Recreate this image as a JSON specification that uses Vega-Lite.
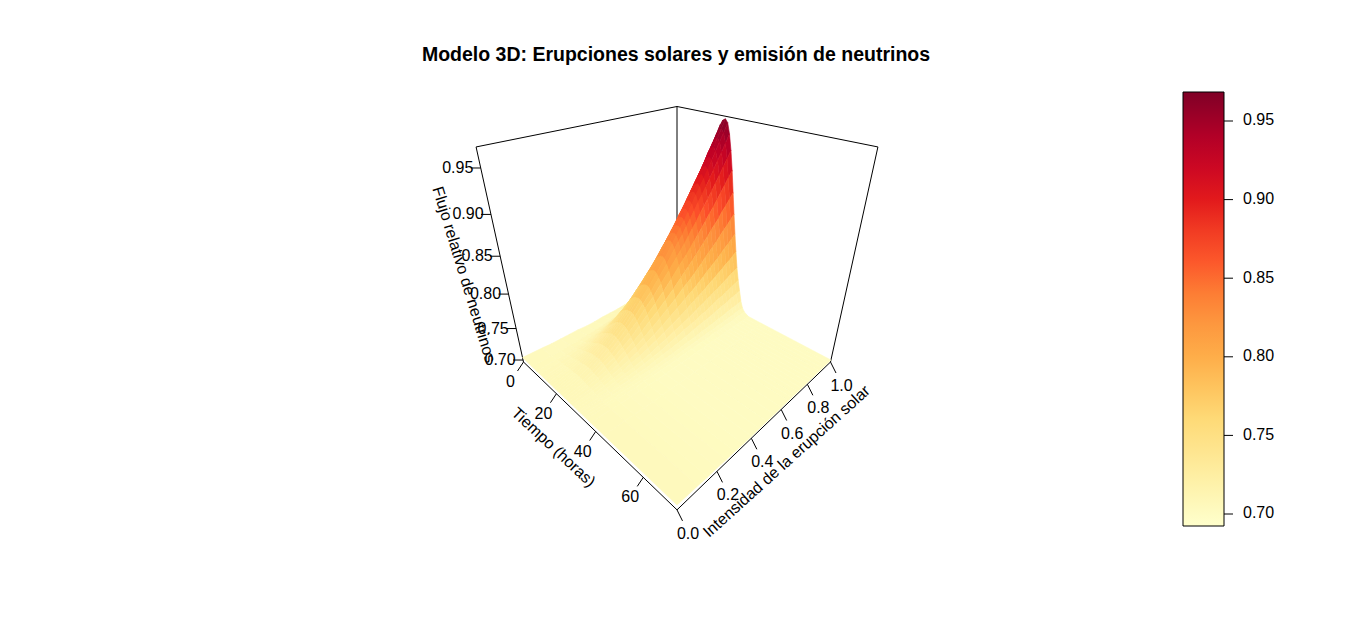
{
"$schema":"https://vega.github.io/schema/vega-lite/v6.json",
"width":1366,"height":642,"padding":0,"autosize":"none","background":"white",
"title":{"text":"Modelo 3D: Erupciones solares y emisión de neutrinos","anchor":"middle","frame":"group","font":"Liberation Sans","fontSize":19.5,"fontWeight":"bold","color":"black","dx":-7,"dy":69},
"config":{"view":{"stroke":null}},
"datasets":{
"caja":[
{"t":0,"i":1,"z":0.6967,"t2":0,"i2":1,"z2":0.971},
{"t":0,"i":0,"z":0.6967,"t2":0,"i2":0,"z2":0.971},
{"t":72,"i":1,"z":0.6967,"t2":72,"i2":1,"z2":0.971},
{"t":0,"i":0,"z":0.971,"t2":0,"i2":1,"z2":0.971},
{"t":0,"i":1,"z":0.971,"t2":72,"i2":1,"z2":0.971},
{"t":0,"i":0,"z":0.6967,"t2":72,"i2":0,"z2":0.6967},
{"t":72,"i":0,"z":0.6967,"t2":72,"i2":1,"z2":0.6967}
],
"ticks":[
{"eje":"t","t":0,"i":0,"z":0.6967,"etiqueta":"0"},
{"eje":"t","t":20,"i":0,"z":0.6967,"etiqueta":"20"},
{"eje":"t","t":40,"i":0,"z":0.6967,"etiqueta":"40"},
{"eje":"t","t":60,"i":0,"z":0.6967,"etiqueta":"60"},
{"eje":"i","t":72,"i":0,"z":0.6967,"etiqueta":"0.0"},
{"eje":"i","t":72,"i":0.2,"z":0.6967,"etiqueta":"0.2"},
{"eje":"i","t":72,"i":0.4,"z":0.6967,"etiqueta":"0.4"},
{"eje":"i","t":72,"i":0.6,"z":0.6967,"etiqueta":"0.6"},
{"eje":"i","t":72,"i":0.8,"z":0.6967,"etiqueta":"0.8"},
{"eje":"i","t":72,"i":1,"z":0.6967,"etiqueta":"1.0"},
{"eje":"z","t":0,"i":0,"z":0.70,"etiqueta":"0.70"},
{"eje":"z","t":0,"i":0,"z":0.75,"etiqueta":"0.75"},
{"eje":"z","t":0,"i":0,"z":0.80,"etiqueta":"0.80"},
{"eje":"z","t":0,"i":0,"z":0.85,"etiqueta":"0.85"},
{"eje":"z","t":0,"i":0,"z":0.90,"etiqueta":"0.90"},
{"eje":"z","t":0,"i":0,"z":0.95,"etiqueta":"0.95"}
],
"barra":[{"valor":0.70},{"valor":0.75},{"valor":0.80},{"valor":0.85},{"valor":0.90},{"valor":0.95}],
"titulos":[
{"eje":"t","t":26,"i":0,"z":0.6967,"etiqueta":"Tiempo (horas)"},
{"eje":"i","t":72,"i":0.7,"z":0.6967,"etiqueta":"Intensidad de la erupción solar"},
{"eje":"z","t":0,"i":0,"z":0.834,"etiqueta":"Flujo relativo de neutrinos"}
],
"superficie":[
{"t":0,"i":1,"z":0.706},{"t":0,"i":0.975,"z":0.706},{"t":0,"i":0.95,"z":0.706},{"t":0,"i":0.925,"z":0.705},{"t":0,"i":0.9,"z":0.705},{"t":0,"i":0.875,"z":0.705},{"t":0,"i":0.85,"z":0.705},{"t":0,"i":0.825,"z":0.705},{"t":0,"i":0.8,"z":0.704},{"t":0,"i":0.775,"z":0.704},{"t":0,"i":0.75,"z":0.704},{"t":0,"i":0.725,"z":0.704},{"t":0,"i":0.7,"z":0.703},{"t":0,"i":0.675,"z":0.703},{"t":0,"i":0.65,"z":0.703},{"t":0,"i":0.6,"z":0.703},{"t":0,"i":0.55,"z":0.702},{"t":0,"i":0.5,"z":0.702},{"t":0,"i":0.45,"z":0.702},{"t":0,"i":0.4,"z":0.701},{"t":0,"i":0.35,"z":0.701},{"t":0,"i":0.3,"z":0.702},{"t":0,"i":0.25,"z":0.702},{"t":0,"i":0.2,"z":0.702},{"t":0,"i":0.15,"z":0.702},{"t":0,"i":0.1,"z":0.703},{"t":0,"i":0,"z":0.704},
{"t":6,"i":1,"z":0.736},{"t":6,"i":0.975,"z":0.735},{"t":6,"i":0.95,"z":0.733},{"t":6,"i":0.925,"z":0.732},{"t":6,"i":0.9,"z":0.731},{"t":6,"i":0.875,"z":0.729},{"t":6,"i":0.85,"z":0.728},{"t":6,"i":0.825,"z":0.727},{"t":6,"i":0.8,"z":0.725},{"t":6,"i":0.775,"z":0.724},{"t":6,"i":0.75,"z":0.723},{"t":6,"i":0.725,"z":0.722},{"t":6,"i":0.7,"z":0.720},{"t":6,"i":0.675,"z":0.719},{"t":6,"i":0.65,"z":0.718},{"t":6,"i":0.6,"z":0.716},{"t":6,"i":0.55,"z":0.714},{"t":6,"i":0.5,"z":0.712},{"t":6,"i":0.45,"z":0.710},{"t":6,"i":0.4,"z":0.708},{"t":6,"i":0.35,"z":0.707},{"t":6,"i":0.3,"z":0.706},{"t":6,"i":0.25,"z":0.705},{"t":6,"i":0.2,"z":0.705},{"t":6,"i":0.15,"z":0.704},{"t":6,"i":0.1,"z":0.704},{"t":6,"i":0,"z":0.704},
{"t":9,"i":1,"z":0.772},{"t":9,"i":0.975,"z":0.769},{"t":9,"i":0.95,"z":0.766},{"t":9,"i":0.925,"z":0.763},{"t":9,"i":0.9,"z":0.760},{"t":9,"i":0.875,"z":0.758},{"t":9,"i":0.85,"z":0.755},{"t":9,"i":0.825,"z":0.753},{"t":9,"i":0.8,"z":0.750},{"t":9,"i":0.775,"z":0.748},{"t":9,"i":0.75,"z":0.745},{"t":9,"i":0.725,"z":0.743},{"t":9,"i":0.7,"z":0.740},{"t":9,"i":0.675,"z":0.738},{"t":9,"i":0.65,"z":0.736},{"t":9,"i":0.6,"z":0.732},{"t":9,"i":0.55,"z":0.728},{"t":9,"i":0.5,"z":0.724},{"t":9,"i":0.45,"z":0.720},{"t":9,"i":0.4,"z":0.717},{"t":9,"i":0.35,"z":0.713},{"t":9,"i":0.3,"z":0.711},{"t":9,"i":0.25,"z":0.709},{"t":9,"i":0.2,"z":0.707},{"t":9,"i":0.15,"z":0.705},{"t":9,"i":0.1,"z":0.705},{"t":9,"i":0,"z":0.704},
{"t":11,"i":1,"z":0.804},{"t":11,"i":0.975,"z":0.800},{"t":11,"i":0.95,"z":0.796},{"t":11,"i":0.925,"z":0.792},{"t":11,"i":0.9,"z":0.788},{"t":11,"i":0.875,"z":0.784},{"t":11,"i":0.85,"z":0.780},{"t":11,"i":0.825,"z":0.777},{"t":11,"i":0.8,"z":0.773},{"t":11,"i":0.775,"z":0.769},{"t":11,"i":0.75,"z":0.766},{"t":11,"i":0.725,"z":0.762},{"t":11,"i":0.7,"z":0.759},{"t":11,"i":0.675,"z":0.756},{"t":11,"i":0.65,"z":0.752},{"t":11,"i":0.6,"z":0.746},{"t":11,"i":0.55,"z":0.740},{"t":11,"i":0.5,"z":0.734},{"t":11,"i":0.45,"z":0.729},{"t":11,"i":0.4,"z":0.724},{"t":11,"i":0.35,"z":0.719},{"t":11,"i":0.3,"z":0.716},{"t":11,"i":0.25,"z":0.712},{"t":11,"i":0.2,"z":0.710},{"t":11,"i":0.15,"z":0.707},{"t":11,"i":0.1,"z":0.706},{"t":11,"i":0,"z":0.704},
{"t":13,"i":1,"z":0.842},{"t":13,"i":0.975,"z":0.837},{"t":13,"i":0.95,"z":0.831},{"t":13,"i":0.925,"z":0.826},{"t":13,"i":0.9,"z":0.820},{"t":13,"i":0.875,"z":0.815},{"t":13,"i":0.85,"z":0.810},{"t":13,"i":0.825,"z":0.805},{"t":13,"i":0.8,"z":0.800},{"t":13,"i":0.775,"z":0.795},{"t":13,"i":0.75,"z":0.790},{"t":13,"i":0.725,"z":0.785},{"t":13,"i":0.7,"z":0.780},{"t":13,"i":0.675,"z":0.776},{"t":13,"i":0.65,"z":0.771},{"t":13,"i":0.6,"z":0.763},{"t":13,"i":0.55,"z":0.755},{"t":13,"i":0.5,"z":0.747},{"t":13,"i":0.45,"z":0.740},{"t":13,"i":0.4,"z":0.733},{"t":13,"i":0.35,"z":0.727},{"t":13,"i":0.3,"z":0.722},{"t":13,"i":0.25,"z":0.717},{"t":13,"i":0.2,"z":0.713},{"t":13,"i":0.15,"z":0.709},{"t":13,"i":0.1,"z":0.707},{"t":13,"i":0,"z":0.704},
{"t":14,"i":1,"z":0.863},{"t":14,"i":0.975,"z":0.856},{"t":14,"i":0.95,"z":0.850},{"t":14,"i":0.925,"z":0.844},{"t":14,"i":0.9,"z":0.837},{"t":14,"i":0.875,"z":0.831},{"t":14,"i":0.85,"z":0.825},{"t":14,"i":0.825,"z":0.820},{"t":14,"i":0.8,"z":0.814},{"t":14,"i":0.775,"z":0.808},{"t":14,"i":0.75,"z":0.803},{"t":14,"i":0.725,"z":0.797},{"t":14,"i":0.7,"z":0.792},{"t":14,"i":0.675,"z":0.787},{"t":14,"i":0.65,"z":0.782},{"t":14,"i":0.6,"z":0.772},{"t":14,"i":0.55,"z":0.763},{"t":14,"i":0.5,"z":0.754},{"t":14,"i":0.45,"z":0.745},{"t":14,"i":0.4,"z":0.738},{"t":14,"i":0.35,"z":0.730},{"t":14,"i":0.3,"z":0.725},{"t":14,"i":0.25,"z":0.719},{"t":14,"i":0.2,"z":0.714},{"t":14,"i":0.15,"z":0.710},{"t":14,"i":0.1,"z":0.707},{"t":14,"i":0,"z":0.704},
{"t":15,"i":1,"z":0.883},{"t":15,"i":0.975,"z":0.876},{"t":15,"i":0.95,"z":0.868},{"t":15,"i":0.925,"z":0.861},{"t":15,"i":0.9,"z":0.854},{"t":15,"i":0.875,"z":0.848},{"t":15,"i":0.85,"z":0.841},{"t":15,"i":0.825,"z":0.834},{"t":15,"i":0.8,"z":0.828},{"t":15,"i":0.775,"z":0.822},{"t":15,"i":0.75,"z":0.815},{"t":15,"i":0.725,"z":0.809},{"t":15,"i":0.7,"z":0.803},{"t":15,"i":0.675,"z":0.797},{"t":15,"i":0.65,"z":0.792},{"t":15,"i":0.6,"z":0.781},{"t":15,"i":0.55,"z":0.770},{"t":15,"i":0.5,"z":0.760},{"t":15,"i":0.45,"z":0.751},{"t":15,"i":0.4,"z":0.742},{"t":15,"i":0.35,"z":0.734},{"t":15,"i":0.3,"z":0.728},{"t":15,"i":0.25,"z":0.721},{"t":15,"i":0.2,"z":0.716},{"t":15,"i":0.15,"z":0.711},{"t":15,"i":0.1,"z":0.708},{"t":15,"i":0,"z":0.704},
{"t":16,"i":1,"z":0.902},{"t":16,"i":0.975,"z":0.894},{"t":16,"i":0.95,"z":0.886},{"t":16,"i":0.925,"z":0.879},{"t":16,"i":0.9,"z":0.871},{"t":16,"i":0.875,"z":0.863},{"t":16,"i":0.85,"z":0.856},{"t":16,"i":0.825,"z":0.849},{"t":16,"i":0.8,"z":0.842},{"t":16,"i":0.775,"z":0.835},{"t":16,"i":0.75,"z":0.828},{"t":16,"i":0.725,"z":0.821},{"t":16,"i":0.7,"z":0.814},{"t":16,"i":0.675,"z":0.808},{"t":16,"i":0.65,"z":0.802},{"t":16,"i":0.6,"z":0.789},{"t":16,"i":0.55,"z":0.778},{"t":16,"i":0.5,"z":0.767},{"t":16,"i":0.45,"z":0.756},{"t":16,"i":0.4,"z":0.747},{"t":16,"i":0.35,"z":0.738},{"t":16,"i":0.3,"z":0.730},{"t":16,"i":0.25,"z":0.723},{"t":16,"i":0.2,"z":0.717},{"t":16,"i":0.15,"z":0.712},{"t":16,"i":0.1,"z":0.708},{"t":16,"i":0,"z":0.704},
{"t":17,"i":1,"z":0.921},{"t":17,"i":0.975,"z":0.912},{"t":17,"i":0.95,"z":0.903},{"t":17,"i":0.925,"z":0.895},{"t":17,"i":0.9,"z":0.886},{"t":17,"i":0.875,"z":0.878},{"t":17,"i":0.85,"z":0.870},{"t":17,"i":0.825,"z":0.862},{"t":17,"i":0.8,"z":0.854},{"t":17,"i":0.775,"z":0.847},{"t":17,"i":0.75,"z":0.839},{"t":17,"i":0.725,"z":0.832},{"t":17,"i":0.7,"z":0.825},{"t":17,"i":0.675,"z":0.818},{"t":17,"i":0.65,"z":0.811},{"t":17,"i":0.6,"z":0.797},{"t":17,"i":0.55,"z":0.785},{"t":17,"i":0.5,"z":0.773},{"t":17,"i":0.45,"z":0.761},{"t":17,"i":0.4,"z":0.751},{"t":17,"i":0.35,"z":0.741},{"t":17,"i":0.3,"z":0.733},{"t":17,"i":0.25,"z":0.725},{"t":17,"i":0.2,"z":0.719},{"t":17,"i":0.15,"z":0.713},{"t":17,"i":0.1,"z":0.709},{"t":17,"i":0,"z":0.704},
{"t":18,"i":1,"z":0.936},{"t":18,"i":0.975,"z":0.927},{"t":18,"i":0.95,"z":0.918},{"t":18,"i":0.925,"z":0.909},{"t":18,"i":0.9,"z":0.900},{"t":18,"i":0.875,"z":0.891},{"t":18,"i":0.85,"z":0.882},{"t":18,"i":0.825,"z":0.874},{"t":18,"i":0.8,"z":0.865},{"t":18,"i":0.775,"z":0.857},{"t":18,"i":0.75,"z":0.849},{"t":18,"i":0.725,"z":0.841},{"t":18,"i":0.7,"z":0.833},{"t":18,"i":0.675,"z":0.826},{"t":18,"i":0.65,"z":0.819},{"t":18,"i":0.6,"z":0.804},{"t":18,"i":0.55,"z":0.791},{"t":18,"i":0.5,"z":0.778},{"t":18,"i":0.45,"z":0.766},{"t":18,"i":0.4,"z":0.755},{"t":18,"i":0.35,"z":0.744},{"t":18,"i":0.3,"z":0.735},{"t":18,"i":0.25,"z":0.727},{"t":18,"i":0.2,"z":0.720},{"t":18,"i":0.15,"z":0.713},{"t":18,"i":0.1,"z":0.709},{"t":18,"i":0,"z":0.704},
{"t":19,"i":1,"z":0.950},{"t":19,"i":0.975,"z":0.940},{"t":19,"i":0.95,"z":0.930},{"t":19,"i":0.925,"z":0.921},{"t":19,"i":0.9,"z":0.911},{"t":19,"i":0.875,"z":0.902},{"t":19,"i":0.85,"z":0.893},{"t":19,"i":0.825,"z":0.884},{"t":19,"i":0.8,"z":0.875},{"t":19,"i":0.775,"z":0.866},{"t":19,"i":0.75,"z":0.858},{"t":19,"i":0.725,"z":0.849},{"t":19,"i":0.7,"z":0.841},{"t":19,"i":0.675,"z":0.833},{"t":19,"i":0.65,"z":0.825},{"t":19,"i":0.6,"z":0.810},{"t":19,"i":0.55,"z":0.796},{"t":19,"i":0.5,"z":0.782},{"t":19,"i":0.45,"z":0.770},{"t":19,"i":0.4,"z":0.758},{"t":19,"i":0.35,"z":0.747},{"t":19,"i":0.3,"z":0.737},{"t":19,"i":0.25,"z":0.728},{"t":19,"i":0.2,"z":0.721},{"t":19,"i":0.15,"z":0.714},{"t":19,"i":0.1,"z":0.709},{"t":19,"i":0,"z":0.704},
{"t":20,"i":1,"z":0.960},{"t":20,"i":0.975,"z":0.949},{"t":20,"i":0.95,"z":0.939},{"t":20,"i":0.925,"z":0.930},{"t":20,"i":0.9,"z":0.919},{"t":20,"i":0.875,"z":0.909},{"t":20,"i":0.85,"z":0.900},{"t":20,"i":0.825,"z":0.891},{"t":20,"i":0.8,"z":0.882},{"t":20,"i":0.775,"z":0.872},{"t":20,"i":0.75,"z":0.864},{"t":20,"i":0.725,"z":0.855},{"t":20,"i":0.7,"z":0.846},{"t":20,"i":0.675,"z":0.839},{"t":20,"i":0.65,"z":0.831},{"t":20,"i":0.6,"z":0.814},{"t":20,"i":0.55,"z":0.800},{"t":20,"i":0.5,"z":0.785},{"t":20,"i":0.45,"z":0.773},{"t":20,"i":0.4,"z":0.760},{"t":20,"i":0.35,"z":0.748},{"t":20,"i":0.3,"z":0.739},{"t":20,"i":0.25,"z":0.729},{"t":20,"i":0.2,"z":0.721},{"t":20,"i":0.15,"z":0.715},{"t":20,"i":0.1,"z":0.710},{"t":20,"i":0,"z":0.704},
{"t":21,"i":1,"z":0.966},{"t":21,"i":0.975,"z":0.955},{"t":21,"i":0.95,"z":0.945},{"t":21,"i":0.925,"z":0.935},{"t":21,"i":0.9,"z":0.924},{"t":21,"i":0.875,"z":0.914},{"t":21,"i":0.85,"z":0.905},{"t":21,"i":0.825,"z":0.895},{"t":21,"i":0.8,"z":0.886},{"t":21,"i":0.775,"z":0.877},{"t":21,"i":0.75,"z":0.868},{"t":21,"i":0.725,"z":0.859},{"t":21,"i":0.7,"z":0.850},{"t":21,"i":0.675,"z":0.842},{"t":21,"i":0.65,"z":0.834},{"t":21,"i":0.6,"z":0.817},{"t":21,"i":0.55,"z":0.802},{"t":21,"i":0.5,"z":0.787},{"t":21,"i":0.45,"z":0.774},{"t":21,"i":0.4,"z":0.761},{"t":21,"i":0.35,"z":0.750},{"t":21,"i":0.3,"z":0.740},{"t":21,"i":0.25,"z":0.730},{"t":21,"i":0.2,"z":0.722},{"t":21,"i":0.15,"z":0.715},{"t":21,"i":0.1,"z":0.710},{"t":21,"i":0,"z":0.704},
{"t":22,"i":1,"z":0.968},{"t":22,"i":0.975,"z":0.957},{"t":22,"i":0.95,"z":0.947},{"t":22,"i":0.925,"z":0.937},{"t":22,"i":0.9,"z":0.926},{"t":22,"i":0.875,"z":0.916},{"t":22,"i":0.85,"z":0.907},{"t":22,"i":0.825,"z":0.897},{"t":22,"i":0.8,"z":0.888},{"t":22,"i":0.775,"z":0.878},{"t":22,"i":0.75,"z":0.869},{"t":22,"i":0.725,"z":0.860},{"t":22,"i":0.7,"z":0.851},{"t":22,"i":0.675,"z":0.843},{"t":22,"i":0.65,"z":0.835},{"t":22,"i":0.6,"z":0.818},{"t":22,"i":0.55,"z":0.803},{"t":22,"i":0.5,"z":0.788},{"t":22,"i":0.45,"z":0.775},{"t":22,"i":0.4,"z":0.762},{"t":22,"i":0.35,"z":0.750},{"t":22,"i":0.3,"z":0.740},{"t":22,"i":0.25,"z":0.730},{"t":22,"i":0.2,"z":0.722},{"t":22,"i":0.15,"z":0.715},{"t":22,"i":0.1,"z":0.710},{"t":22,"i":0,"z":0.704},
{"t":23,"i":1,"z":0.964},{"t":23,"i":0.975,"z":0.953},{"t":23,"i":0.95,"z":0.943},{"t":23,"i":0.925,"z":0.933},{"t":23,"i":0.9,"z":0.923},{"t":23,"i":0.875,"z":0.913},{"t":23,"i":0.85,"z":0.903},{"t":23,"i":0.825,"z":0.894},{"t":23,"i":0.8,"z":0.885},{"t":23,"i":0.775,"z":0.875},{"t":23,"i":0.75,"z":0.866},{"t":23,"i":0.725,"z":0.857},{"t":23,"i":0.7,"z":0.849},{"t":23,"i":0.675,"z":0.841},{"t":23,"i":0.65,"z":0.832},{"t":23,"i":0.6,"z":0.816},{"t":23,"i":0.55,"z":0.801},{"t":23,"i":0.5,"z":0.787},{"t":23,"i":0.45,"z":0.774},{"t":23,"i":0.4,"z":0.761},{"t":23,"i":0.35,"z":0.749},{"t":23,"i":0.3,"z":0.739},{"t":23,"i":0.25,"z":0.730},{"t":23,"i":0.2,"z":0.722},{"t":23,"i":0.15,"z":0.715},{"t":23,"i":0.1,"z":0.710},{"t":23,"i":0,"z":0.704},
{"t":24,"i":1,"z":0.951},{"t":24,"i":0.975,"z":0.941},{"t":24,"i":0.95,"z":0.931},{"t":24,"i":0.925,"z":0.922},{"t":24,"i":0.9,"z":0.912},{"t":24,"i":0.875,"z":0.902},{"t":24,"i":0.85,"z":0.893},{"t":24,"i":0.825,"z":0.884},{"t":24,"i":0.8,"z":0.876},{"t":24,"i":0.775,"z":0.867},{"t":24,"i":0.75,"z":0.858},{"t":24,"i":0.725,"z":0.850},{"t":24,"i":0.7,"z":0.841},{"t":24,"i":0.675,"z":0.834},{"t":24,"i":0.65,"z":0.826},{"t":24,"i":0.6,"z":0.810},{"t":24,"i":0.55,"z":0.796},{"t":24,"i":0.5,"z":0.782},{"t":24,"i":0.45,"z":0.770},{"t":24,"i":0.4,"z":0.758},{"t":24,"i":0.35,"z":0.747},{"t":24,"i":0.3,"z":0.737},{"t":24,"i":0.25,"z":0.728},{"t":24,"i":0.2,"z":0.721},{"t":24,"i":0.15,"z":0.714},{"t":24,"i":0.1,"z":0.709},{"t":24,"i":0,"z":0.704},
{"t":25,"i":1,"z":0.931},{"t":25,"i":0.975,"z":0.922},{"t":25,"i":0.95,"z":0.913},{"t":25,"i":0.925,"z":0.904},{"t":25,"i":0.9,"z":0.895},{"t":25,"i":0.875,"z":0.886},{"t":25,"i":0.85,"z":0.878},{"t":25,"i":0.825,"z":0.870},{"t":25,"i":0.8,"z":0.862},{"t":25,"i":0.775,"z":0.853},{"t":25,"i":0.75,"z":0.846},{"t":25,"i":0.725,"z":0.838},{"t":25,"i":0.7,"z":0.830},{"t":25,"i":0.675,"z":0.823},{"t":25,"i":0.65,"z":0.816},{"t":25,"i":0.6,"z":0.802},{"t":25,"i":0.55,"z":0.789},{"t":25,"i":0.5,"z":0.776},{"t":25,"i":0.45,"z":0.765},{"t":25,"i":0.4,"z":0.753},{"t":25,"i":0.35,"z":0.743},{"t":25,"i":0.3,"z":0.735},{"t":25,"i":0.25,"z":0.726},{"t":25,"i":0.2,"z":0.720},{"t":25,"i":0.15,"z":0.713},{"t":25,"i":0.1,"z":0.709},{"t":25,"i":0,"z":0.704},
{"t":26,"i":1,"z":0.906},{"t":26,"i":0.975,"z":0.898},{"t":26,"i":0.95,"z":0.890},{"t":26,"i":0.925,"z":0.882},{"t":26,"i":0.9,"z":0.874},{"t":26,"i":0.875,"z":0.866},{"t":26,"i":0.85,"z":0.859},{"t":26,"i":0.825,"z":0.851},{"t":26,"i":0.8,"z":0.844},{"t":26,"i":0.775,"z":0.837},{"t":26,"i":0.75,"z":0.830},{"t":26,"i":0.725,"z":0.823},{"t":26,"i":0.7,"z":0.816},{"t":26,"i":0.675,"z":0.810},{"t":26,"i":0.65,"z":0.804},{"t":26,"i":0.6,"z":0.791},{"t":26,"i":0.55,"z":0.779},{"t":26,"i":0.5,"z":0.768},{"t":26,"i":0.45,"z":0.758},{"t":26,"i":0.4,"z":0.748},{"t":26,"i":0.35,"z":0.738},{"t":26,"i":0.3,"z":0.731},{"t":26,"i":0.25,"z":0.723},{"t":26,"i":0.2,"z":0.718},{"t":26,"i":0.15,"z":0.712},{"t":26,"i":0.1,"z":0.708},{"t":26,"i":0,"z":0.704},
{"t":27,"i":1,"z":0.877},{"t":27,"i":0.975,"z":0.870},{"t":27,"i":0.95,"z":0.863},{"t":27,"i":0.925,"z":0.857},{"t":27,"i":0.9,"z":0.849},{"t":27,"i":0.875,"z":0.843},{"t":27,"i":0.85,"z":0.837},{"t":27,"i":0.825,"z":0.830},{"t":27,"i":0.8,"z":0.824},{"t":27,"i":0.775,"z":0.818},{"t":27,"i":0.75,"z":0.812},{"t":27,"i":0.725,"z":0.806},{"t":27,"i":0.7,"z":0.800},{"t":27,"i":0.675,"z":0.795},{"t":27,"i":0.65,"z":0.789},{"t":27,"i":0.6,"z":0.778},{"t":27,"i":0.55,"z":0.768},{"t":27,"i":0.5,"z":0.758},{"t":27,"i":0.45,"z":0.750},{"t":27,"i":0.4,"z":0.741},{"t":27,"i":0.35,"z":0.733},{"t":27,"i":0.3,"z":0.727},{"t":27,"i":0.25,"z":0.720},{"t":27,"i":0.2,"z":0.715},{"t":27,"i":0.15,"z":0.711},{"t":27,"i":0.1,"z":0.708},{"t":27,"i":0,"z":0.704},
{"t":28,"i":1,"z":0.848},{"t":28,"i":0.975,"z":0.842},{"t":28,"i":0.95,"z":0.836},{"t":28,"i":0.925,"z":0.831},{"t":28,"i":0.9,"z":0.825},{"t":28,"i":0.875,"z":0.819},{"t":28,"i":0.85,"z":0.814},{"t":28,"i":0.825,"z":0.809},{"t":28,"i":0.8,"z":0.804},{"t":28,"i":0.775,"z":0.798},{"t":28,"i":0.75,"z":0.793},{"t":28,"i":0.725,"z":0.788},{"t":28,"i":0.7,"z":0.783},{"t":28,"i":0.675,"z":0.779},{"t":28,"i":0.65,"z":0.775},{"t":28,"i":0.6,"z":0.765},{"t":28,"i":0.55,"z":0.757},{"t":28,"i":0.5,"z":0.749},{"t":28,"i":0.45,"z":0.741},{"t":28,"i":0.4,"z":0.734},{"t":28,"i":0.35,"z":0.728},{"t":28,"i":0.3,"z":0.723},{"t":28,"i":0.25,"z":0.717},{"t":28,"i":0.2,"z":0.713},{"t":28,"i":0.15,"z":0.709},{"t":28,"i":0.1,"z":0.707},{"t":28,"i":0,"z":0.704},
{"t":29,"i":1,"z":0.820},{"t":29,"i":0.975,"z":0.815},{"t":29,"i":0.95,"z":0.810},{"t":29,"i":0.925,"z":0.806},{"t":29,"i":0.9,"z":0.801},{"t":29,"i":0.875,"z":0.796},{"t":29,"i":0.85,"z":0.792},{"t":29,"i":0.825,"z":0.788},{"t":29,"i":0.8,"z":0.784},{"t":29,"i":0.775,"z":0.779},{"t":29,"i":0.75,"z":0.775},{"t":29,"i":0.725,"z":0.771},{"t":29,"i":0.7,"z":0.767},{"t":29,"i":0.675,"z":0.764},{"t":29,"i":0.65,"z":0.760},{"t":29,"i":0.6,"z":0.753},{"t":29,"i":0.55,"z":0.746},{"t":29,"i":0.5,"z":0.739},{"t":29,"i":0.45,"z":0.733},{"t":29,"i":0.4,"z":0.728},{"t":29,"i":0.35,"z":0.722},{"t":29,"i":0.3,"z":0.718},{"t":29,"i":0.25,"z":0.714},{"t":29,"i":0.2,"z":0.711},{"t":29,"i":0.15,"z":0.708},{"t":29,"i":0.1,"z":0.706},{"t":29,"i":0,"z":0.704},
{"t":30,"i":1,"z":0.794},{"t":30,"i":0.975,"z":0.790},{"t":30,"i":0.95,"z":0.786},{"t":30,"i":0.925,"z":0.783},{"t":30,"i":0.9,"z":0.779},{"t":30,"i":0.875,"z":0.776},{"t":30,"i":0.85,"z":0.772},{"t":30,"i":0.825,"z":0.769},{"t":30,"i":0.8,"z":0.766},{"t":30,"i":0.775,"z":0.762},{"t":30,"i":0.75,"z":0.759},{"t":30,"i":0.725,"z":0.756},{"t":30,"i":0.7,"z":0.753},{"t":30,"i":0.675,"z":0.750},{"t":30,"i":0.65,"z":0.747},{"t":30,"i":0.6,"z":0.741},{"t":30,"i":0.55,"z":0.736},{"t":30,"i":0.5,"z":0.731},{"t":30,"i":0.45,"z":0.726},{"t":30,"i":0.4,"z":0.722},{"t":30,"i":0.35,"z":0.718},{"t":30,"i":0.3,"z":0.715},{"t":30,"i":0.25,"z":0.711},{"t":30,"i":0.2,"z":0.709},{"t":30,"i":0.15,"z":0.707},{"t":30,"i":0.1,"z":0.705},{"t":30,"i":0,"z":0.704},
{"t":31,"i":1,"z":0.770},{"t":31,"i":0.975,"z":0.767},{"t":31,"i":0.95,"z":0.765},{"t":31,"i":0.925,"z":0.762},{"t":31,"i":0.9,"z":0.759},{"t":31,"i":0.875,"z":0.757},{"t":31,"i":0.85,"z":0.754},{"t":31,"i":0.825,"z":0.752},{"t":31,"i":0.8,"z":0.749},{"t":31,"i":0.775,"z":0.747},{"t":31,"i":0.75,"z":0.744},{"t":31,"i":0.725,"z":0.742},{"t":31,"i":0.7,"z":0.740},{"t":31,"i":0.675,"z":0.737},{"t":31,"i":0.65,"z":0.735},{"t":31,"i":0.6,"z":0.731},{"t":31,"i":0.55,"z":0.727},{"t":31,"i":0.5,"z":0.723},{"t":31,"i":0.45,"z":0.720},{"t":31,"i":0.4,"z":0.716},{"t":31,"i":0.35,"z":0.713},{"t":31,"i":0.3,"z":0.711},{"t":31,"i":0.25,"z":0.709},{"t":31,"i":0.2,"z":0.707},{"t":31,"i":0.15,"z":0.705},{"t":31,"i":0.1,"z":0.705},{"t":31,"i":0,"z":0.704},
{"t":32,"i":1,"z":0.751},{"t":32,"i":0.975,"z":0.749},{"t":32,"i":0.95,"z":0.747},{"t":32,"i":0.925,"z":0.745},{"t":32,"i":0.9,"z":0.743},{"t":32,"i":0.875,"z":0.741},{"t":32,"i":0.85,"z":0.740},{"t":32,"i":0.825,"z":0.738},{"t":32,"i":0.8,"z":0.736},{"t":32,"i":0.775,"z":0.734},{"t":32,"i":0.75,"z":0.732},{"t":32,"i":0.725,"z":0.731},{"t":32,"i":0.7,"z":0.729},{"t":32,"i":0.675,"z":0.727},{"t":32,"i":0.65,"z":0.726},{"t":32,"i":0.6,"z":0.723},{"t":32,"i":0.55,"z":0.720},{"t":32,"i":0.5,"z":0.717},{"t":32,"i":0.45,"z":0.714},{"t":32,"i":0.4,"z":0.712},{"t":32,"i":0.35,"z":0.710},{"t":32,"i":0.3,"z":0.708},{"t":32,"i":0.25,"z":0.707},{"t":32,"i":0.2,"z":0.706},{"t":32,"i":0.15,"z":0.704},{"t":32,"i":0.1,"z":0.704},{"t":32,"i":0,"z":0.704},
{"t":33,"i":1,"z":0.735},{"t":33,"i":0.975,"z":0.733},{"t":33,"i":0.95,"z":0.732},{"t":33,"i":0.925,"z":0.731},{"t":33,"i":0.9,"z":0.729},{"t":33,"i":0.875,"z":0.728},{"t":33,"i":0.85,"z":0.727},{"t":33,"i":0.825,"z":0.726},{"t":33,"i":0.8,"z":0.724},{"t":33,"i":0.775,"z":0.723},{"t":33,"i":0.75,"z":0.722},{"t":33,"i":0.725,"z":0.721},{"t":33,"i":0.7,"z":0.720},{"t":33,"i":0.675,"z":0.719},{"t":33,"i":0.65,"z":0.718},{"t":33,"i":0.6,"z":0.715},{"t":33,"i":0.55,"z":0.713},{"t":33,"i":0.5,"z":0.711},{"t":33,"i":0.45,"z":0.710},{"t":33,"i":0.4,"z":0.708},{"t":33,"i":0.35,"z":0.706},{"t":33,"i":0.3,"z":0.706},{"t":33,"i":0.25,"z":0.705},{"t":33,"i":0.2,"z":0.705},{"t":33,"i":0.15,"z":0.704},{"t":33,"i":0.1,"z":0.704},{"t":33,"i":0,"z":0.704},
{"t":34,"i":1,"z":0.719},{"t":34,"i":0.975,"z":0.718},{"t":34,"i":0.95,"z":0.717},{"t":34,"i":0.925,"z":0.717},{"t":34,"i":0.9,"z":0.716},{"t":34,"i":0.875,"z":0.715},{"t":34,"i":0.85,"z":0.714},{"t":34,"i":0.825,"z":0.714},{"t":34,"i":0.8,"z":0.713},{"t":34,"i":0.775,"z":0.712},{"t":34,"i":0.75,"z":0.712},{"t":34,"i":0.725,"z":0.711},{"t":34,"i":0.7,"z":0.711},{"t":34,"i":0.675,"z":0.710},{"t":34,"i":0.65,"z":0.709},{"t":34,"i":0.6,"z":0.708},{"t":34,"i":0.55,"z":0.707},{"t":34,"i":0.5,"z":0.706},{"t":34,"i":0.45,"z":0.705},{"t":34,"i":0.4,"z":0.704},{"t":34,"i":0.35,"z":0.704},{"t":34,"i":0.3,"z":0.704},{"t":34,"i":0.25,"z":0.703},{"t":34,"i":0.2,"z":0.703},{"t":34,"i":0.15,"z":0.703},{"t":34,"i":0.1,"z":0.703},{"t":34,"i":0,"z":0.704},
{"t":35,"i":1,"z":0.709},{"t":35,"i":0.975,"z":0.709},{"t":35,"i":0.95,"z":0.709},{"t":35,"i":0.925,"z":0.708},{"t":35,"i":0.9,"z":0.708},{"t":35,"i":0.875,"z":0.708},{"t":35,"i":0.85,"z":0.707},{"t":35,"i":0.825,"z":0.707},{"t":35,"i":0.8,"z":0.707},{"t":35,"i":0.775,"z":0.706},{"t":35,"i":0.75,"z":0.706},{"t":35,"i":0.725,"z":0.706},{"t":35,"i":0.7,"z":0.705},{"t":35,"i":0.675,"z":0.705},{"t":35,"i":0.65,"z":0.705},{"t":35,"i":0.6,"z":0.704},{"t":35,"i":0.55,"z":0.704},{"t":35,"i":0.5,"z":0.703},{"t":35,"i":0.45,"z":0.703},{"t":35,"i":0.4,"z":0.702},{"t":35,"i":0.35,"z":0.702},{"t":35,"i":0.3,"z":0.702},{"t":35,"i":0.25,"z":0.702},{"t":35,"i":0.2,"z":0.703},{"t":35,"i":0.15,"z":0.702},{"t":35,"i":0.1,"z":0.703},{"t":35,"i":0,"z":0.704},
{"t":36,"i":1,"z":0.704},{"t":36,"i":0.975,"z":0.704},{"t":36,"i":0.95,"z":0.704},{"t":36,"i":0.925,"z":0.704},{"t":36,"i":0.9,"z":0.703},{"t":36,"i":0.875,"z":0.703},{"t":36,"i":0.85,"z":0.703},{"t":36,"i":0.825,"z":0.703},{"t":36,"i":0.8,"z":0.703},{"t":36,"i":0.775,"z":0.703},{"t":36,"i":0.75,"z":0.703},{"t":36,"i":0.725,"z":0.702},{"t":36,"i":0.7,"z":0.702},{"t":36,"i":0.675,"z":0.702},{"t":36,"i":0.65,"z":0.702},{"t":36,"i":0.6,"z":0.702},{"t":36,"i":0.55,"z":0.702},{"t":36,"i":0.5,"z":0.701},{"t":36,"i":0.45,"z":0.701},{"t":36,"i":0.4,"z":0.701},{"t":36,"i":0.35,"z":0.701},{"t":36,"i":0.3,"z":0.702},{"t":36,"i":0.25,"z":0.701},{"t":36,"i":0.2,"z":0.702},{"t":36,"i":0.15,"z":0.702},{"t":36,"i":0.1,"z":0.703},{"t":36,"i":0,"z":0.704},
{"t":38,"i":1,"z":0.700},{"t":38,"i":0.975,"z":0.700},{"t":38,"i":0.95,"z":0.700},{"t":38,"i":0.925,"z":0.700},{"t":38,"i":0.9,"z":0.700},{"t":38,"i":0.875,"z":0.700},{"t":38,"i":0.85,"z":0.700},{"t":38,"i":0.825,"z":0.700},{"t":38,"i":0.8,"z":0.700},{"t":38,"i":0.775,"z":0.700},{"t":38,"i":0.75,"z":0.700},{"t":38,"i":0.725,"z":0.700},{"t":38,"i":0.7,"z":0.700},{"t":38,"i":0.675,"z":0.700},{"t":38,"i":0.65,"z":0.700},{"t":38,"i":0.6,"z":0.700},{"t":38,"i":0.55,"z":0.700},{"t":38,"i":0.5,"z":0.700},{"t":38,"i":0.45,"z":0.700},{"t":38,"i":0.4,"z":0.700},{"t":38,"i":0.35,"z":0.700},{"t":38,"i":0.3,"z":0.701},{"t":38,"i":0.25,"z":0.701},{"t":38,"i":0.2,"z":0.702},{"t":38,"i":0.15,"z":0.702},{"t":38,"i":0.1,"z":0.703},{"t":38,"i":0,"z":0.704},
{"t":44,"i":1,"z":0.700},{"t":44,"i":0.975,"z":0.700},{"t":44,"i":0.95,"z":0.700},{"t":44,"i":0.925,"z":0.700},{"t":44,"i":0.9,"z":0.700},{"t":44,"i":0.875,"z":0.700},{"t":44,"i":0.85,"z":0.700},{"t":44,"i":0.825,"z":0.700},{"t":44,"i":0.8,"z":0.700},{"t":44,"i":0.775,"z":0.700},{"t":44,"i":0.75,"z":0.700},{"t":44,"i":0.725,"z":0.700},{"t":44,"i":0.7,"z":0.700},{"t":44,"i":0.675,"z":0.700},{"t":44,"i":0.65,"z":0.700},{"t":44,"i":0.6,"z":0.700},{"t":44,"i":0.55,"z":0.700},{"t":44,"i":0.5,"z":0.700},{"t":44,"i":0.45,"z":0.700},{"t":44,"i":0.4,"z":0.700},{"t":44,"i":0.35,"z":0.700},{"t":44,"i":0.3,"z":0.701},{"t":44,"i":0.25,"z":0.701},{"t":44,"i":0.2,"z":0.702},{"t":44,"i":0.15,"z":0.702},{"t":44,"i":0.1,"z":0.703},{"t":44,"i":0,"z":0.704},
{"t":72,"i":1,"z":0.700},{"t":72,"i":0.975,"z":0.700},{"t":72,"i":0.95,"z":0.700},{"t":72,"i":0.925,"z":0.700},{"t":72,"i":0.9,"z":0.700},{"t":72,"i":0.875,"z":0.700},{"t":72,"i":0.85,"z":0.700},{"t":72,"i":0.825,"z":0.700},{"t":72,"i":0.8,"z":0.700},{"t":72,"i":0.775,"z":0.700},{"t":72,"i":0.75,"z":0.700},{"t":72,"i":0.725,"z":0.700},{"t":72,"i":0.7,"z":0.700},{"t":72,"i":0.675,"z":0.700},{"t":72,"i":0.65,"z":0.700},{"t":72,"i":0.6,"z":0.700},{"t":72,"i":0.55,"z":0.700},{"t":72,"i":0.5,"z":0.700},{"t":72,"i":0.45,"z":0.700},{"t":72,"i":0.4,"z":0.700},{"t":72,"i":0.35,"z":0.700},{"t":72,"i":0.3,"z":0.701},{"t":72,"i":0.25,"z":0.701},{"t":72,"i":0.2,"z":0.702},{"t":72,"i":0.15,"z":0.702},{"t":72,"i":0.1,"z":0.703},{"t":72,"i":0,"z":0.704}
]
},
"layer":[
{
"data":{"name":"caja"},
"transform":[
{"calculate":"(datum.z-0.6967)/0.2743","as":"h"},
{"calculate":"1+0.29*(datum.i-datum.t/72)-0.236*datum.h","as":"d"},
{"calculate":"677+153.5*(datum.t/72+datum.i-1)/datum.d","as":"sx"},
{"calculate":"362-(105*(datum.i-datum.t/72)+164.3*datum.h)/datum.d","as":"sy"},
{"calculate":"(datum.z2-0.6967)/0.2743","as":"h2"},
{"calculate":"1+0.29*(datum.i2-datum.t2/72)-0.236*datum.h2","as":"d2"},
{"calculate":"677+153.5*(datum.t2/72+datum.i2-1)/datum.d2","as":"sx2"},
{"calculate":"362-(105*(datum.i2-datum.t2/72)+164.3*datum.h2)/datum.d2","as":"sy2"}
],
"mark":{"type":"rule","color":"black","strokeWidth":1},
"encoding":{
"x":{"field":"sx","type":"quantitative","scale":{"domain":[0,1366],"nice":false,"zero":false},"axis":null},
"y":{"field":"sy","type":"quantitative","scale":{"domain":[642,0],"nice":false,"zero":false},"axis":null},
"x2":{"field":"sx2"},"y2":{"field":"sy2"}
}
},
{
"data":{"name":"superficie"},
"transform":[
{"window":[{"op":"lead","field":"z","as":"z_i"},{"op":"lead","field":"i","as":"i2"}],"groupby":["t"],"sort":[{"field":"i","order":"ascending"}]},
{"window":[{"op":"lead","field":"t","as":"t2"},{"op":"lead","field":"z","as":"z_t"},{"op":"lead","field":"z_i","as":"z_ti"}],"groupby":["i"],"sort":[{"field":"t","order":"ascending"}]},
{"filter":"isValid(datum.i2) && isValid(datum.t2)"},
{"calculate":"(datum.z+datum.z_i+datum.z_t+datum.z_ti)/4","as":"zc"},
{"calculate":"datum.t+'_'+datum.i","as":"faceta"},
{"calculate":"[datum.t,datum.t2,datum.t2,datum.t,datum.t]","as":"vt"},
{"calculate":"[datum.i,datum.i,datum.i2,datum.i2,datum.i]","as":"vi"},
{"calculate":"[datum.z,datum.z_t,datum.z_ti,datum.z_i,datum.z]","as":"vz"},
{"calculate":"[0,1,2,3,4]","as":"orden"},
{"flatten":["vt","vi","vz","orden"]},
{"calculate":"(datum.vz-0.6967)/0.2743","as":"h"},
{"calculate":"1+0.29*(datum.vi-datum.vt/72)-0.236*datum.h","as":"d"},
{"calculate":"677+153.5*(datum.vt/72+datum.vi-1)/datum.d","as":"sx"},
{"calculate":"362-(105*(datum.vi-datum.vt/72)+164.3*datum.h)/datum.d","as":"sy"}
],
"mark":{"type":"line","strokeWidth":0.6,"interpolate":"linear"},
"encoding":{
"x":{"field":"sx","type":"quantitative","scale":{"domain":[0,1366],"nice":false,"zero":false},"axis":null},
"y":{"field":"sy","type":"quantitative","scale":{"domain":[642,0],"nice":false,"zero":false},"axis":null},
"detail":{"field":"faceta"},
"order":{"field":"orden"},
"fill":{"field":"zc","type":"quantitative",
"scale":{"domain":[0.692,0.968],"clamp":true,"range":["#FFFFCC","#FFEDA0","#FED976","#FEB24C","#FD8D3C","#FC4E2A","#E31A1C","#BD0026","#800026"]},
"legend":null},
"stroke":{"field":"zc","type":"quantitative",
"scale":{"domain":[0.692,0.968],"clamp":true,"range":["#FFFFCC","#FFEDA0","#FED976","#FEB24C","#FD8D3C","#FC4E2A","#E31A1C","#BD0026","#800026"]},
"legend":null}
}
},
{
"data":{"name":"ticks"},
"transform":[
{"calculate":"(datum.z-0.6967)/0.2743","as":"h"},
{"calculate":"1+0.29*(datum.i-datum.t/72)-0.236*datum.h","as":"d"},
{"calculate":"677+153.5*(datum.t/72+datum.i-1)/datum.d","as":"sx"},
{"calculate":"362-(105*(datum.i-datum.t/72)+164.3*datum.h)/datum.d","as":"sy"},
{"calculate":"datum.sx+(datum.eje=='t'?-6:datum.eje=='i'?5.5:-10)","as":"sx2"},
{"calculate":"datum.sy+(datum.eje=='t'?9:datum.eje=='i'?11:0)","as":"sy2"},
{"calculate":"datum.sx+(datum.eje=='t'?-13:datum.eje=='i'?11:-23)","as":"lx"},
{"calculate":"datum.sy+(datum.eje=='t'?20:datum.eje=='i'?24:0)","as":"ly"}
],
"layer":[
{"mark":{"type":"rule","color":"black","strokeWidth":1},
"encoding":{
"x":{"field":"sx","type":"quantitative","scale":{"domain":[0,1366],"nice":false,"zero":false},"axis":null},
"y":{"field":"sy","type":"quantitative","scale":{"domain":[642,0],"nice":false,"zero":false},"axis":null},
"x2":{"field":"sx2"},"y2":{"field":"sy2"}}},
{"mark":{"type":"text","font":"Liberation Sans","fontSize":16,"color":"black","align":"center","baseline":"middle"},
"encoding":{
"x":{"field":"lx","type":"quantitative","scale":{"domain":[0,1366],"nice":false,"zero":false},"axis":null},
"y":{"field":"ly","type":"quantitative","scale":{"domain":[642,0],"nice":false,"zero":false},"axis":null},
"text":{"field":"etiqueta"}}}
]
},
{
"data":{"name":"titulos"},
"transform":[
{"calculate":"(datum.z-0.6967)/0.2743","as":"h"},
{"calculate":"1+0.29*(datum.i-datum.t/72)-0.236*datum.h","as":"d"},
{"calculate":"677+153.5*(datum.t/72+datum.i-1)/datum.d","as":"sx"},
{"calculate":"362-(105*(datum.i-datum.t/72)+164.3*datum.h)/datum.d","as":"sy"},
{"calculate":"datum.sx+(datum.eje=='t'?-14:datum.eje=='i'?-8:-39)","as":"lx"},
{"calculate":"datum.sy+(datum.eje=='t'?43:datum.eje=='i'?65:6)","as":"ly"}
],
"encoding":{
"x":{"field":"lx","type":"quantitative","scale":{"domain":[0,1366],"nice":false,"zero":false},"axis":null},
"y":{"field":"ly","type":"quantitative","scale":{"domain":[642,0],"nice":false,"zero":false},"axis":null},
"text":{"field":"etiqueta"}
},
"layer":[
{"transform":[{"filter":"datum.eje=='t'"}],"mark":{"type":"text","font":"Liberation Sans","fontSize":16,"color":"black","align":"center","baseline":"middle","angle":43}},
{"transform":[{"filter":"datum.eje=='i'"}],"mark":{"type":"text","font":"Liberation Sans","fontSize":16,"color":"black","align":"center","baseline":"middle","angle":-42}},
{"transform":[{"filter":"datum.eje=='z'"}],"mark":{"type":"text","font":"Liberation Sans","fontSize":16,"color":"black","align":"center","baseline":"middle","angle":73}}
]
},
{
"data":{"name":"barra"},
"transform":[
{"calculate":"514-(datum.valor-0.7)*1572","as":"by"},
{"calculate":"1224","as":"bx"},
{"calculate":"1233","as":"bx2"}
],
"encoding":{
"x":{"field":"bx","type":"quantitative","scale":{"domain":[0,1366],"nice":false,"zero":false},"axis":null},
"y":{"field":"by","type":"quantitative","scale":{"domain":[642,0],"nice":false,"zero":false},"axis":null}
},
"layer":[
{"mark":{"type":"rule","color":"black","strokeWidth":1},"encoding":{"x2":{"field":"bx2"}}},
{"mark":{"type":"point","filled":true,"size":0,"opacity":1},
"encoding":{"color":{"field":"valor","type":"quantitative",
"scale":{"domain":[0.692,0.96801],"clamp":true,"range":["#FFFFCC","#FFEDA0","#FED976","#FEB24C","#FD8D3C","#FC4E2A","#E31A1C","#BD0026","#800026"]},
"legend":{"orient":"none","legendX":1183,"legendY":92,"direction":"vertical","title":null,"gradientLength":434,"gradientThickness":41,"gradientStrokeColor":"black","gradientStrokeWidth":1,"values":[0.70,0.75,0.80,0.85,0.90,0.95],"format":".2f","labelFont":"Liberation Sans","labelFontSize":16,"labelColor":"black","labelOffset":19,"labelOverlap":false}}}}
]
}
]
}
